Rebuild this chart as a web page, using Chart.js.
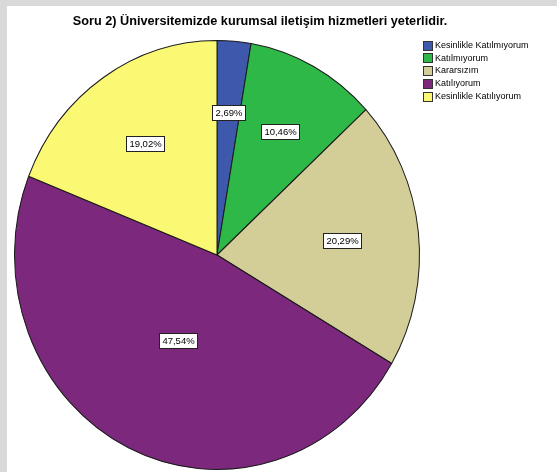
<!DOCTYPE html>
<html>
<head>
<meta charset="utf-8">
<script src="https://cdn.jsdelivr.net/npm/chart.js@4.4.0/dist/chart.umd.min.js"></script>
<style>
html, body { margin: 0; padding: 0; background: #d9d9d9; }
#quadro { position: absolute; left: 7px; top: 6px; width: 550px; height: 466px; background: #fff; }
</style>
</head>
<body>
<div id="quadro"><canvas id="grafico"></canvas></div>
<script>
var categorias = ['Kesinlikle Katılmıyorum', 'Katılmıyorum', 'Kararsızım', 'Katılıyorum', 'Kesinlikle Katılıyorum'];
var porcentagens = [2.69, 10.46, 20.29, 47.54, 19.02];
var cores = ['#3e58ac', '#2eb848', '#d3ce97', '#7c287d', '#fbf873'];
var titulo = 'Soru 2) Üniversitemizde kurumsal iletişim hizmetleri yeterlidir.';

var FONTE = '"Liberation Sans", Arial, sans-serif';
var ESCALA_Y = 215 / 203; // a pizza original é levemente oval

// estica a pizza verticalmente
var pluginOval = {
    id: 'oval',
    beforeDatasetsDraw: function (chart) {
        var arco = chart.getDatasetMeta(0).data[0];
        var ctx = chart.ctx;
        ctx.save();
        ctx.translate(arco.x, arco.y);
        ctx.scale(1, ESCALA_Y);
        ctx.translate(-arco.x, -arco.y);
    },
    afterDatasetsDraw: function (chart) {
        chart.ctx.restore();
    }
};

// rótulos de porcentagem no centróide de cada fatia
var pluginRotulos = {
    id: 'rotulos',
    afterDatasetsDraw: function (chart) {
        var ctx = chart.ctx;
        var meta = chart.getDatasetMeta(0);
        ctx.save();
        ctx.font = '9.5px ' + FONTE;
        ctx.textAlign = 'center';
        ctx.textBaseline = 'middle';
        meta.data.forEach(function (arco, i) {
            var meio = (arco.startAngle + arco.endAngle) / 2;
            var alfa = (arco.endAngle - arco.startAngle) / 2;
            var d = 2 * arco.outerRadius * Math.sin(alfa) / (3 * alfa);
            var x = arco.x + d * Math.cos(meio);
            var y = arco.y + d * Math.sin(meio) * ESCALA_Y;
            var texto = porcentagens[i].toFixed(2).replace('.', ',') + '%';
            var w = Math.round(ctx.measureText(texto).width + 6);
            var h = 15;
            var bx = Math.round(x - w / 2) + 0.5;
            var by = Math.round(y - h / 2) + 0.5;
            ctx.fillStyle = '#fff';
            ctx.fillRect(bx, by, w, h);
            ctx.strokeStyle = '#222';
            ctx.lineWidth = 1;
            ctx.strokeRect(bx, by, w, h);
            ctx.fillStyle = '#000';
            ctx.fillText(texto, bx + w / 2, by + h / 2 + 0.5);
        });
        ctx.restore();
    }
};

// título e legenda no estilo do SPSS
var pluginTextos = {
    id: 'textos',
    afterDraw: function (chart) {
        var ctx = chart.ctx;
        ctx.save();
        ctx.fillStyle = '#000';
        ctx.font = 'bold 12.7px ' + FONTE;
        ctx.textAlign = 'center';
        ctx.textBaseline = 'middle';
        ctx.fillText(titulo, 253, 15);

        ctx.font = '9px ' + FONTE;
        ctx.textAlign = 'left';
        categorias.forEach(function (nome, i) {
            var y = 39 + i * 12.75;
            ctx.fillStyle = cores[i];
            ctx.fillRect(416.5, Math.round(y - 4.5) + 0.5, 9, 9);
            ctx.strokeStyle = '#333';
            ctx.lineWidth = 1;
            ctx.strokeRect(416.5, Math.round(y - 4.5) + 0.5, 9, 9);
            ctx.fillStyle = '#000';
            ctx.fillText(nome, 428, y + 0.5);
        });
        ctx.restore();
    }
};

var ctx = document.getElementById('grafico').getContext('2d');
var grafico = new Chart(ctx, {
    type: 'pie',
    data: {
        labels: categorias,
        datasets: [{
            data: porcentagens,
            backgroundColor: cores,
            borderColor: '#1a1a1a',
            borderWidth: 1
        }]
    },
    options: {
        responsive: true,
        maintainAspectRatio: false,
        animation: false,
        layout: {
            padding: { left: 7, right: 137, top: 46, bottom: 14 }
        },
        plugins: {
            legend: { display: false },
            title: { display: false },
            tooltip: { enabled: false }
        }
    },
    plugins: [pluginOval, pluginRotulos, pluginTextos]
});
</script>
</body>
</html>
